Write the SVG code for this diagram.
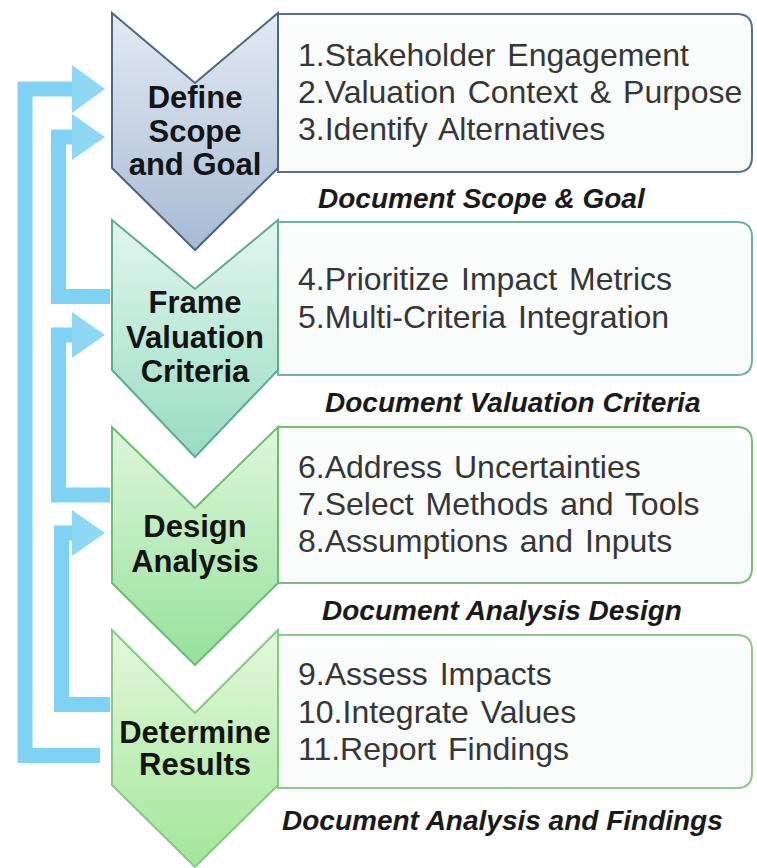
<svg xmlns="http://www.w3.org/2000/svg" width="757" height="868" viewBox="0 0 757 868">
  <defs>
    <linearGradient id="g1" x1="0" y1="0" x2="0" y2="1">
      <stop offset="0" stop-color="#e3eaf3"/>
      <stop offset="1" stop-color="#a6bad4"/>
    </linearGradient>
    <linearGradient id="g2" x1="0" y1="0" x2="0" y2="1">
      <stop offset="0" stop-color="#e2f6ef"/>
      <stop offset="1" stop-color="#98dcc2"/>
    </linearGradient>
    <linearGradient id="g3" x1="0" y1="0" x2="0" y2="1">
      <stop offset="0" stop-color="#def7da"/>
      <stop offset="1" stop-color="#96e09c"/>
    </linearGradient>
    <linearGradient id="g4" x1="0" y1="0" x2="0" y2="1">
      <stop offset="0" stop-color="#e4f8dc"/>
      <stop offset="1" stop-color="#a2e69a"/>
    </linearGradient>
    <linearGradient id="bx" x1="0" y1="0" x2="0" y2="1">
      <stop offset="0" stop-color="#fcfdfd"/>
      <stop offset="1" stop-color="#f8f9f9"/>
    </linearGradient>
  </defs>
  <style>
    .list { font-family: "Liberation Sans", Arial, sans-serif; font-size: 32px; fill: #363636; word-spacing: 3px; }
    .cap { font-family: "Liberation Sans", Arial, sans-serif; font-size: 28px; font-weight: bold; font-style: italic; fill: #1a1a1a; }
    .lbl { font-family: "Liberation Sans", Arial, sans-serif; font-size: 31px; font-weight: bold; fill: #141414; text-anchor: middle; }
    .box { fill: url(#bx); stroke-width: 2; }
    .chev { stroke-width: 2; stroke-linejoin: miter; }
    .conn { fill: none; stroke: #80d2f4; stroke-width: 15; stroke-linejoin: miter; stroke-linecap: butt; }
    .head { fill: #8ed8f5; }
  </style>
  <rect width="757" height="868" fill="#ffffff"/>

  <g id="connectors">
    <polyline class="conn" points="100,755.5 25,755.5 25,89 74,89"/>
    <polygon class="head" points="72,65 105,89 72,113"/>
    <polyline class="conn" points="110,296.5 58.5,296.5 58.5,137 74,137"/>
    <polygon class="head" points="72,114 105,137 72,160"/>
    <polyline class="conn" points="110,495 58.5,495 58.5,335 74,335"/>
    <polygon class="head" points="72,312 105,335 72,358"/>
    <polyline class="conn" points="110,704.5 61.5,704.5 61.5,533 74,533"/>
    <polygon class="head" points="72,510 105,533 72,556"/>
  </g>

  <g id="step1">
    <path class="box" stroke="#57718d" d="M278,14 H737 Q752,14 752,29 V157 Q752,172 737,172 H278 Z"/>
    <polygon class="chev" fill="url(#g1)" stroke="#4b6683" points="112,13 195,83 278,13 278,168 195,250 112,168"/>
    <text class="lbl" x="195" y="108">Define</text>
    <text class="lbl" x="195" y="142">Scope</text>
    <text class="lbl" x="195" y="175">and Goal</text>
    <text class="list" x="298" y="66">1.Stakeholder Engagement</text>
    <text class="list" x="298" y="103">2.Valuation Context &amp; Purpose</text>
    <text class="list" x="298" y="140">3.Identify Alternatives</text>
    <text class="cap" x="318" y="208">Document Scope &amp; Goal</text>
  </g>

  <g id="step2">
    <path class="box" stroke="#6cb598" d="M278,222 H737 Q752,222 752,237 V360 Q752,375 737,375 H278 Z"/>
    <polygon class="chev" fill="url(#g2)" stroke="#5eab8e" points="112,220 195,289 278,220 278,370 195,457 112,370"/>
    <text class="lbl" x="195" y="313">Frame</text>
    <text class="lbl" x="195" y="348">Valuation</text>
    <text class="lbl" x="195" y="382">Criteria</text>
    <text class="list" x="298" y="290">4.Prioritize Impact Metrics</text>
    <text class="list" x="298" y="328">5.Multi-Criteria Integration</text>
    <text class="cap" x="325" y="412">Document Valuation Criteria</text>
  </g>

  <g id="step3">
    <path class="box" stroke="#76be79" d="M278,427 H737 Q752,427 752,442 V568 Q752,583 737,583 H278 Z"/>
    <polygon class="chev" fill="url(#g3)" stroke="#6cbd72" points="112,427 195,508 278,427 278,583 195,665 112,583"/>
    <text class="lbl" x="195" y="537">Design</text>
    <text class="lbl" x="195" y="572">Analysis</text>
    <text class="list" x="298" y="478">6.Address Uncertainties</text>
    <text class="list" x="298" y="515">7.Select Methods and Tools</text>
    <text class="list" x="298" y="552">8.Assumptions and Inputs</text>
    <text class="cap" x="322" y="620">Document Analysis Design</text>
  </g>

  <g id="step4">
    <path class="box" stroke="#8dc98a" d="M278,635 H737 Q752,635 752,650 V773 Q752,788 737,788 H278 Z"/>
    <polygon class="chev" fill="url(#g4)" stroke="#88c983" points="112,630 195,713 278,630 278,785 195,867 112,785"/>
    <text class="lbl" x="195" y="743">Determine</text>
    <text class="lbl" x="195" y="775">Results</text>
    <text class="list" x="298" y="685">9.Assess Impacts</text>
    <text class="list" x="298" y="723">10.Integrate Values</text>
    <text class="list" x="298" y="760">11.Report Findings</text>
    <text class="cap" x="282" y="830">Document Analysis and Findings</text>
  </g>
</svg>
